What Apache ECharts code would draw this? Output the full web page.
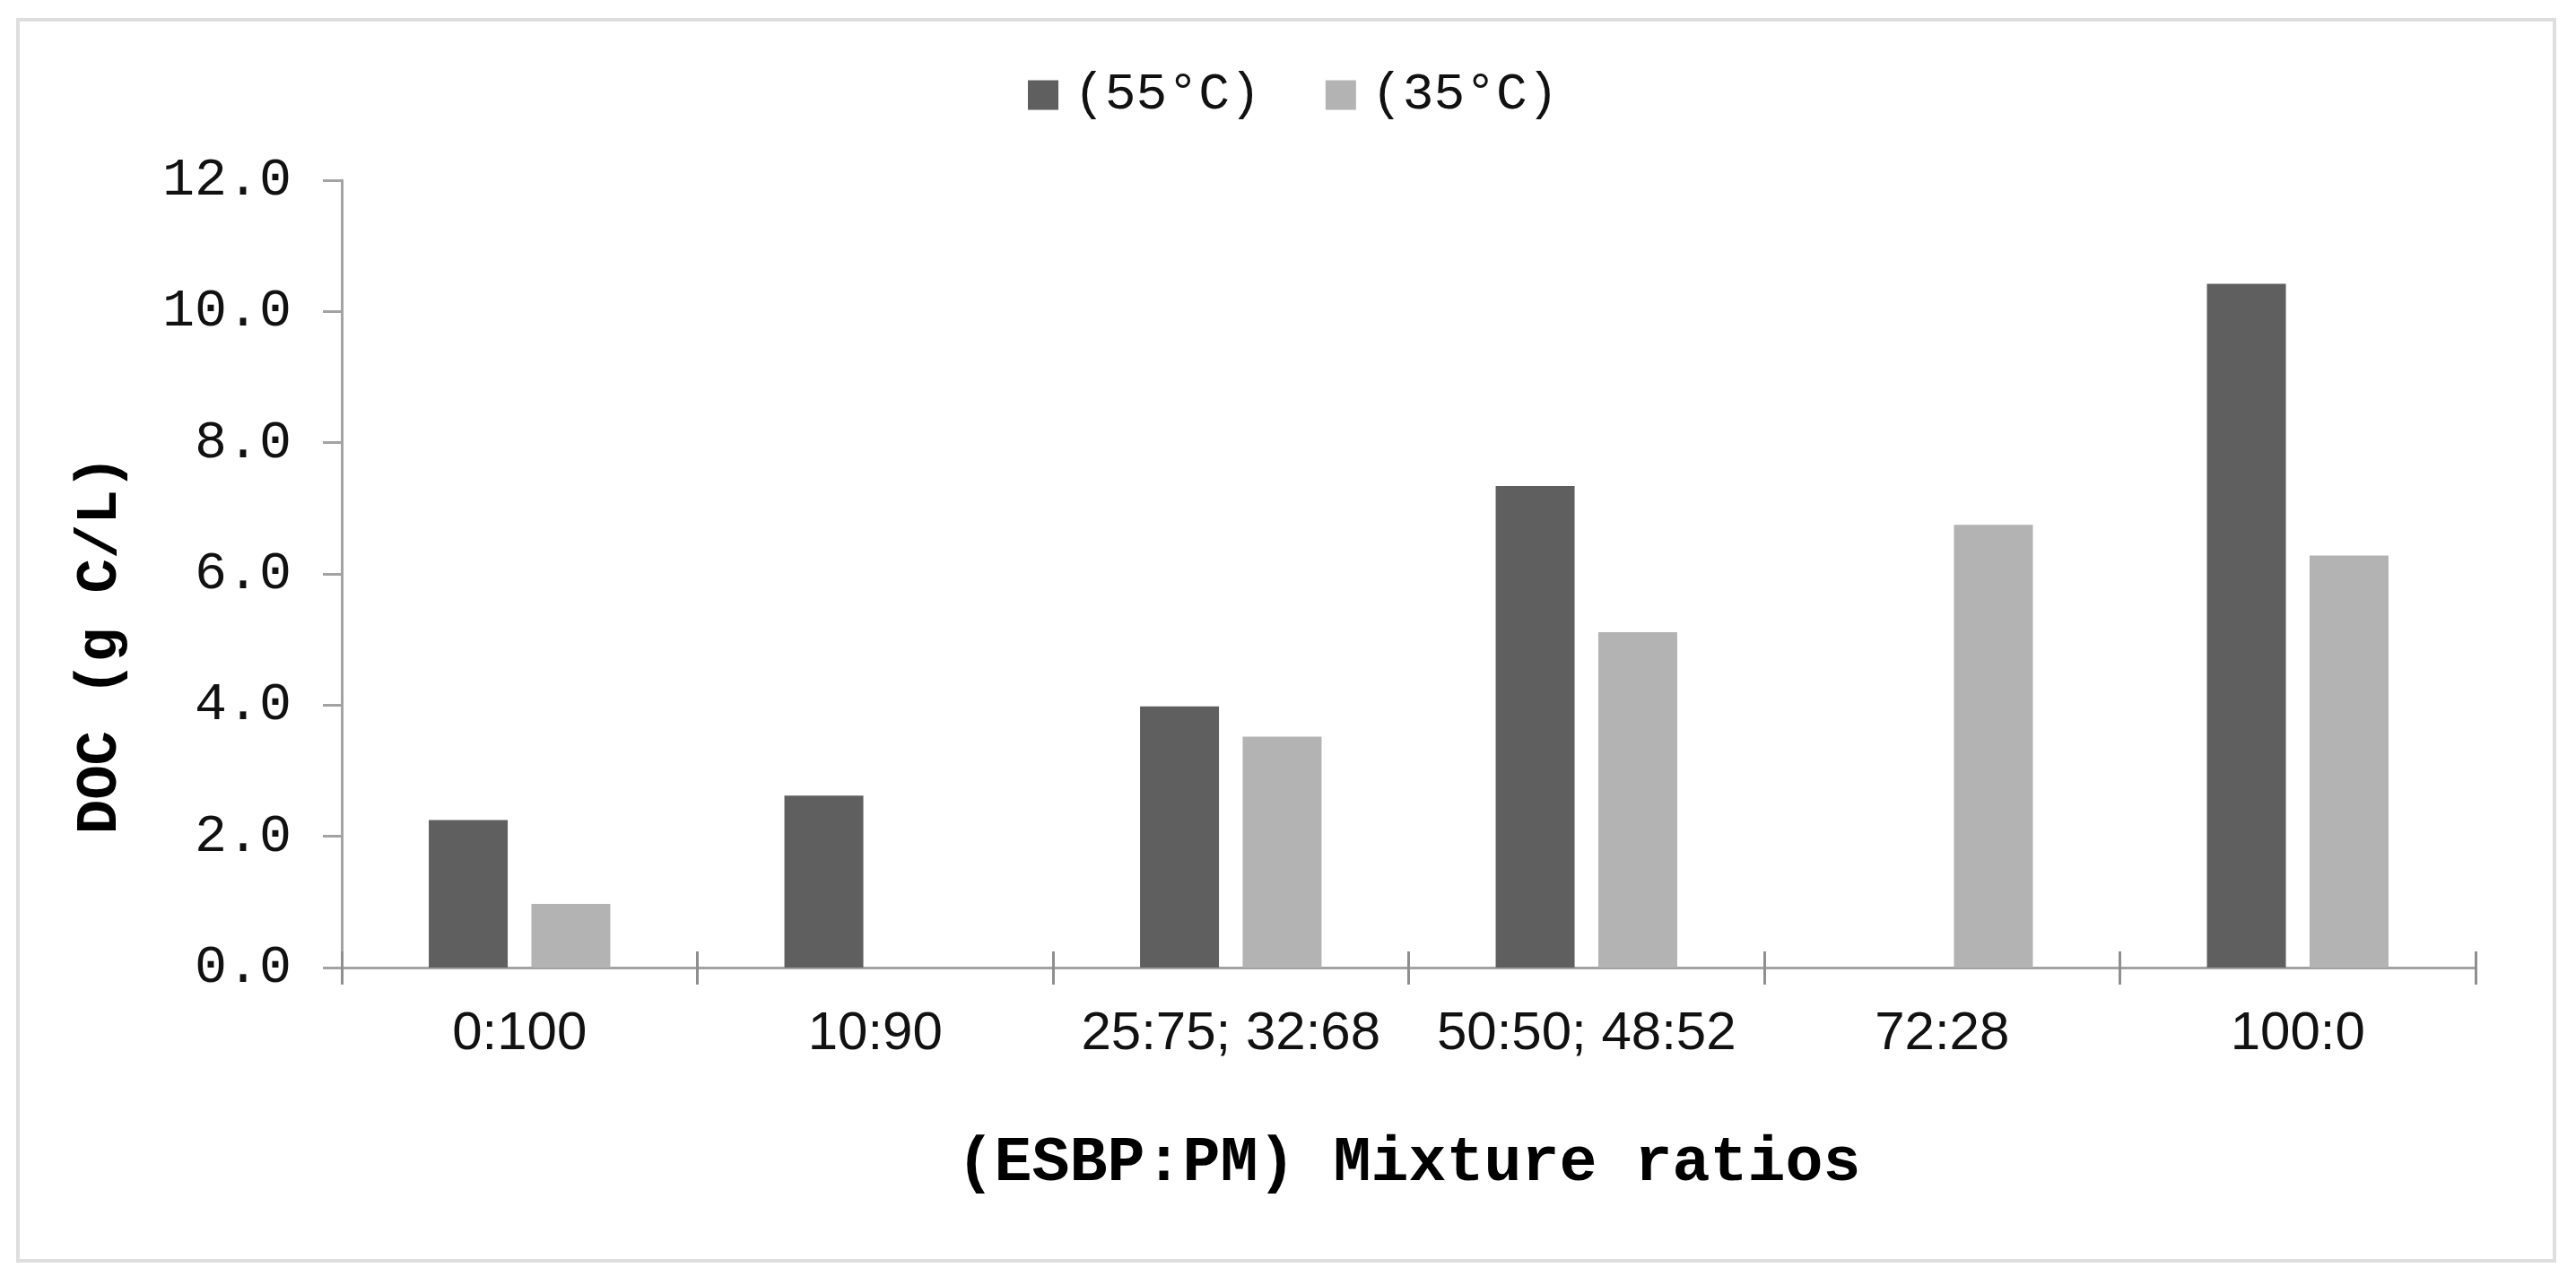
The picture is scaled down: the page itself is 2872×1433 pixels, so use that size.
<!DOCTYPE html>
<html>
<head>
<meta charset="utf-8">
<script src="https://cdn.jsdelivr.net/npm/echarts@6/dist/echarts.min.js"></script>
<style>
  html, body { margin: 0; padding: 0; background: #fff; }
  #echart { width: 2872px; height: 1433px; }
</style>
</head>
<body>
<div id="echart"></div>
<script>
// data
var ratios = ['0:100', '10:90', '25:75; 32:68', '50:50; 48:52', '72:28', '100:0'];
var doc55 = [2.25, 2.62, 3.98, 7.34, null, 10.42];
var doc35 = [0.97, null, 3.52, 5.11, 6.75, 6.28];
var seriesNames = ['(55°C)', '(35°C)'];

var axisGray = '#a3a3a3';
var monoFont = '"Liberation Mono", "DejaVu Sans Mono", monospace';

var myChart = echarts.init(document.getElementById('echart'));
myChart.setOption({
	animation: false,
	backgroundColor: '#fff',
	graphic: [{
		type: 'rect',
		shape: { x: 20, y: 22, width: 2828, height: 1384 },
		style: { fill: 'none', stroke: '#dedede', lineWidth: 4 }
	}],
	legend: {
		data: seriesNames,
		left: 1141,
		top: 72,
		icon: 'rect',
		itemWidth: 34,
		itemHeight: 33,
		itemGap: 72,
		textStyle: {
			fontFamily: monoFont,
			fontSize: 58,
			color: '#111',
			padding: [0, 0, 0, 12]
		}
	},
	grid: {
		left: 381,
		right: 112,
		top: 201,
		bottom: 354
	},
	xAxis: [{
		type: 'category',
		data: ratios,
		position: 'bottom',
		name: '(ESBP:PM) Mixture ratios',
		nameLocation: 'middle',
		nameGap: 184,
		nameTextStyle: {
			fontFamily: monoFont,
			fontWeight: 'bold',
			fontSize: 70,
			color: '#000'
		},
		axisLine: { lineStyle: { color: axisGray, width: 3 } },
		axisTick: { show: true, length: 19, lineStyle: { color: '#8f8f8f', width: 3 } },
		axisLabel: {
			interval: 0,
			margin: 44,
			fontFamily: '"Liberation Sans", Arial, sans-serif',
			fontSize: 60,
			color: '#111'
		}
	}, {
		// second axis only to draw the upper half of the crossing ticks
		type: 'category',
		data: ratios,
		position: 'bottom',
		axisLine: { show: false },
		axisTick: { show: true, inside: true, length: 18, lineStyle: { color: '#8f8f8f', width: 3 } },
		axisLabel: { show: false }
	}],
	yAxis: {
		type: 'value',
		min: 0,
		max: 12,
		interval: 2,
		name: 'DOC (g C/L)',
		nameLocation: 'middle',
		nameGap: 236,
		nameTextStyle: {
			fontFamily: monoFont,
			fontWeight: 'bold',
			fontSize: 64,
			color: '#000',
			padding: [0, 158, 0, 0]
		},
		axisLine: { show: true, lineStyle: { color: axisGray, width: 3 } },
		axisTick: { show: true, length: 21, lineStyle: { color: axisGray, width: 3 } },
		splitLine: { show: false },
		axisLabel: {
			margin: 56,
			fontFamily: monoFont,
			fontSize: 60,
			color: '#111',
			formatter: function(v) { return v.toFixed(1); }
		}
	},
	series: [{
		name: seriesNames[0],
		type: 'bar',
		data: doc55,
		barWidth: 88,
		barGap: '30%',
		itemStyle: { color: '#5f5f5f' }
	}, {
		name: seriesNames[1],
		type: 'bar',
		data: doc35,
		barWidth: 88,
		barGap: '30%',
		itemStyle: { color: '#b3b3b3' }
	}]
});
</script>
</body>
</html>
